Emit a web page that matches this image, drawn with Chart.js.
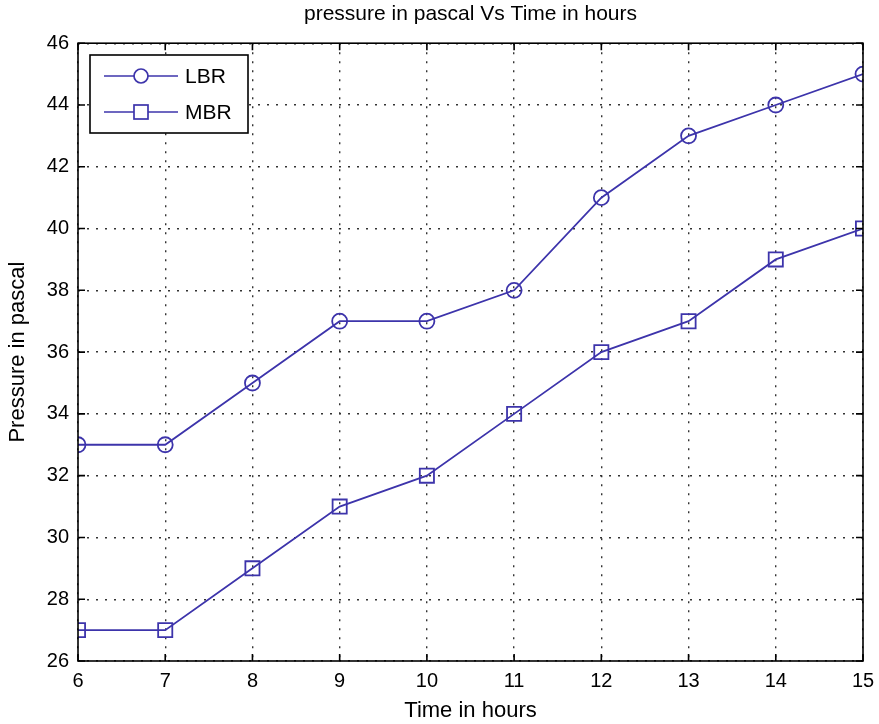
<!DOCTYPE html>
<html>
<head>
<meta charset="utf-8">
<script src="https://cdn.jsdelivr.net/npm/chart.js@4/dist/chart.umd.min.js"></script>
<style>
  html, body { margin: 0; padding: 0; background: #fff; }
  #wrap { width: 879px; height: 724px; }
</style>
</head>
<body>
<div id="wrap"><canvas id="myChart" width="879" height="724"></canvas></div>
<script>
// data
var hours = [6, 7, 8, 9, 10, 11, 12, 13, 14, 15];
var lbr = [33, 33, 35, 37, 37, 38, 41, 43, 44, 45];
var mbr = [27, 27, 29, 31, 32, 34, 36, 37, 39, 40];
var yTicks = [26, 28, 30, 32, 34, 36, 38, 40, 42, 44, 46];

var lineColor = '#3d34ab';
var font = 'Liberation Sans, Arial, sans-serif';

function toPoints(xs, ys) {
  return xs.map(function(x, i) { return { x: x, y: ys[i] }; });
}

// box round the plot + matlab style ticks pointing inward
var innerTicks = {
  id: 'innerTicks',
  afterDatasetsDraw: function(chart) {
    var ctx = chart.ctx, a = chart.chartArea;
    var xs = chart.scales.x, ys = chart.scales.y;
    var len = 7;
    ctx.save();
    ctx.strokeStyle = '#000';
    ctx.lineWidth = 1.6;
    ctx.setLineDash([]);
    ctx.strokeRect(a.left, a.top, a.right - a.left, a.bottom - a.top);
    ctx.beginPath();
    hours.forEach(function(h) {
      var px = xs.getPixelForValue(h);
      ctx.moveTo(px, a.bottom); ctx.lineTo(px, a.bottom - len);
      ctx.moveTo(px, a.top); ctx.lineTo(px, a.top + len);
    });
    yTicks.forEach(function(t) {
      var py = ys.getPixelForValue(t);
      ctx.moveTo(a.left, py); ctx.lineTo(a.left + len, py);
      ctx.moveTo(a.right, py); ctx.lineTo(a.right - len, py);
    });
    ctx.stroke();
    ctx.restore();
  }
};

// legend box inside the plot, top left
var boxLegend = {
  id: 'boxLegend',
  afterDraw: function(chart) {
    var ctx = chart.ctx;
    var x0 = 90, y0 = 55, w = 158, h = 78;
    ctx.save();
    ctx.fillStyle = '#fff';
    ctx.fillRect(x0, y0, w, h);
    ctx.strokeStyle = '#000';
    ctx.lineWidth = 1.6;
    ctx.strokeRect(x0, y0, w, h);
    chart.data.datasets.forEach(function(ds, i) {
      var cy = y0 + 21 + i * 36;
      ctx.strokeStyle = ds.borderColor;
      ctx.lineWidth = 1.7;
      ctx.beginPath();
      ctx.moveTo(x0 + 14, cy); ctx.lineTo(x0 + 88, cy);
      ctx.stroke();
      ctx.fillStyle = '#fff';
      if (ds.pointStyle === 'rect') {
        ctx.fillRect(x0 + 44, cy - 7, 14, 14);
        ctx.strokeRect(x0 + 44, cy - 7, 14, 14);
      } else {
        ctx.beginPath();
        ctx.arc(x0 + 51, cy, 7, 0, Math.PI * 2);
        ctx.fill();
        ctx.stroke();
      }
      ctx.fillStyle = '#000';
      ctx.font = '21px ' + font;
      ctx.textBaseline = 'middle';
      ctx.fillText(ds.label, x0 + 95, cy + 1);
    });
    ctx.restore();
  }
};

var ctx = document.getElementById('myChart').getContext('2d');
var chart = new Chart(ctx, {
  type: 'line',
  data: {
    datasets: [{
      label: 'LBR',
      data: toPoints(hours, lbr),
      borderColor: lineColor,
      backgroundColor: 'rgba(0,0,0,0)',
      borderWidth: 1.8,
      pointStyle: 'circle',
      pointRadius: 7.5,
      pointBorderWidth: 1.8,
      tension: 0
    }, {
      label: 'MBR',
      data: toPoints(hours, mbr),
      borderColor: lineColor,
      backgroundColor: 'rgba(0,0,0,0)',
      borderWidth: 1.8,
      pointStyle: 'rect',
      pointRadius: 10,
      pointBorderWidth: 1.8,
      tension: 0
    }]
  },
  options: {
    responsive: false,
    animation: false,
    layout: { padding: { left: 0, right: 16, top: 0, bottom: 0 } },
    plugins: {
      legend: { display: false },
      tooltip: { enabled: false },
      title: {
        display: true,
        fullSize: false,
        text: 'pressure in pascal Vs Time in hours',
        color: '#000',
        font: { family: font, size: 21, weight: 'normal' },
        padding: { top: 2, bottom: 16 }
      }
    },
    scales: {
      x: {
        type: 'linear',
        min: 6,
        max: 15,
        afterBuildTicks: function(scale) {
          scale.ticks = hours.map(function(v) { return { value: v }; });
        },
        afterFit: function(scale) {
          scale.height = 63;
          scale.paddingLeft = 0;
          scale.paddingRight = 0;
        },
        grid: { color: '#333', drawTicks: false, lineWidth: 1.4 },
        border: { display: false, dash: [2, 7] },
        ticks: { color: '#000', padding: 8, font: { family: font, size: 20 }, maxRotation: 0 },
        title: {
          display: true,
          text: 'Time in hours',
          color: '#000',
          font: { family: font, size: 22 },
          padding: { top: 0, bottom: 0 }
        }
      },
      y: {
        min: 26,
        max: 46,
        afterBuildTicks: function(scale) {
          scale.ticks = yTicks.map(function(v) { return { value: v }; });
        },
        afterFit: function(scale) { scale.width = 78; },
        grid: { color: '#333', drawTicks: false, lineWidth: 1.4 },
        border: { display: false, dash: [2, 7] },
        ticks: { color: '#000', padding: 9, font: { family: font, size: 20 } },
        title: {
          display: true,
          text: 'Pressure in pascal',
          color: '#000',
          font: { family: font, size: 22 },
          padding: { top: 5, bottom: 0 }
        }
      }
    }
  },
  plugins: [innerTicks, boxLegend]
});
</script>
</body>
</html>
